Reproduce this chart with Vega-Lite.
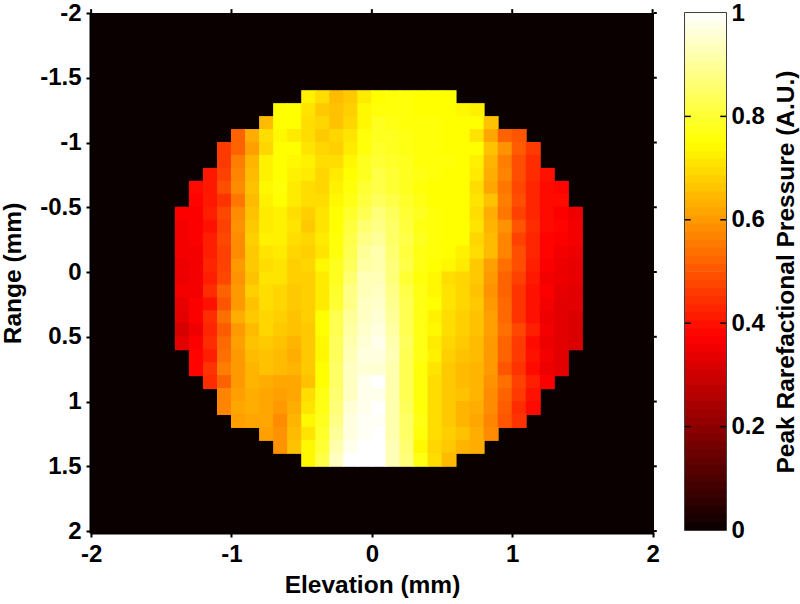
{"$schema":"https://vega.github.io/schema/vega-lite/v6.json","autosize":"none","padding":{"left":90,"top":13,"right":710,"bottom":591},"background":"white","bounds":"flush","spacing":31,"config":{"font":"Liberation Sans"},"datasets":{"cells":[
{"x":-0.45,"y":-1.35,"v":0.73},{"x":-0.35,"y":-1.35,"v":0.70},{"x":-0.25,"y":-1.35,"v":0.65},{"x":-0.15,"y":-1.35,"v":0.67},{"x":-0.05,"y":-1.35,"v":0.72},{"x":0.05,"y":-1.35,"v":0.75},{"x":0.15,"y":-1.35,"v":0.76},{"x":0.25,"y":-1.35,"v":0.76},{"x":0.35,"y":-1.35,"v":0.75},{"x":0.45,"y":-1.35,"v":0.75},{"x":0.55,"y":-1.35,"v":0.75},
{"x":-0.65,"y":-1.25,"v":0.75},{"x":-0.55,"y":-1.25,"v":0.75},{"x":-0.45,"y":-1.25,"v":0.71},{"x":-0.35,"y":-1.25,"v":0.67},{"x":-0.25,"y":-1.25,"v":0.66},{"x":-0.15,"y":-1.25,"v":0.68},{"x":-0.05,"y":-1.25,"v":0.74},{"x":0.05,"y":-1.25,"v":0.76},{"x":0.15,"y":-1.25,"v":0.76},{"x":0.25,"y":-1.25,"v":0.76},{"x":0.35,"y":-1.25,"v":0.75},{"x":0.45,"y":-1.25,"v":0.75},{"x":0.55,"y":-1.25,"v":0.75},{"x":0.65,"y":-1.25,"v":0.74},{"x":0.75,"y":-1.25,"v":0.73},
{"x":-0.75,"y":-1.15,"v":0.65},{"x":-0.65,"y":-1.15,"v":0.75},{"x":-0.55,"y":-1.15,"v":0.75},{"x":-0.45,"y":-1.15,"v":0.70},{"x":-0.35,"y":-1.15,"v":0.69},{"x":-0.25,"y":-1.15,"v":0.66},{"x":-0.15,"y":-1.15,"v":0.69},{"x":-0.05,"y":-1.15,"v":0.74},{"x":0.05,"y":-1.15,"v":0.78},{"x":0.15,"y":-1.15,"v":0.77},{"x":0.25,"y":-1.15,"v":0.76},{"x":0.35,"y":-1.15,"v":0.76},{"x":0.45,"y":-1.15,"v":0.76},{"x":0.55,"y":-1.15,"v":0.75},{"x":0.65,"y":-1.15,"v":0.75},{"x":0.75,"y":-1.15,"v":0.75},{"x":0.85,"y":-1.15,"v":0.66},
{"x":-0.95,"y":-1.05,"v":0.52},{"x":-0.85,"y":-1.05,"v":0.63},{"x":-0.75,"y":-1.05,"v":0.70},{"x":-0.65,"y":-1.05,"v":0.74},{"x":-0.55,"y":-1.05,"v":0.72},{"x":-0.45,"y":-1.05,"v":0.70},{"x":-0.35,"y":-1.05,"v":0.67},{"x":-0.25,"y":-1.05,"v":0.69},{"x":-0.15,"y":-1.05,"v":0.71},{"x":-0.05,"y":-1.05,"v":0.76},{"x":0.05,"y":-1.05,"v":0.78},{"x":0.15,"y":-1.05,"v":0.78},{"x":0.25,"y":-1.05,"v":0.77},{"x":0.35,"y":-1.05,"v":0.76},{"x":0.45,"y":-1.05,"v":0.76},{"x":0.55,"y":-1.05,"v":0.75},{"x":0.65,"y":-1.05,"v":0.75},{"x":0.75,"y":-1.05,"v":0.71},{"x":0.85,"y":-1.05,"v":0.62},{"x":0.95,"y":-1.05,"v":0.52},{"x":1.05,"y":-1.05,"v":0.50},
{"x":-1.05,"y":-0.95,"v":0.46},{"x":-0.95,"y":-0.95,"v":0.52},{"x":-0.85,"y":-0.95,"v":0.61},{"x":-0.75,"y":-0.95,"v":0.69},{"x":-0.65,"y":-0.95,"v":0.75},{"x":-0.55,"y":-0.95,"v":0.75},{"x":-0.45,"y":-0.95,"v":0.71},{"x":-0.35,"y":-0.95,"v":0.69},{"x":-0.25,"y":-0.95,"v":0.68},{"x":-0.15,"y":-0.95,"v":0.72},{"x":-0.05,"y":-0.95,"v":0.76},{"x":0.05,"y":-0.95,"v":0.79},{"x":0.15,"y":-0.95,"v":0.78},{"x":0.25,"y":-0.95,"v":0.77},{"x":0.35,"y":-0.95,"v":0.76},{"x":0.45,"y":-0.95,"v":0.76},{"x":0.55,"y":-0.95,"v":0.75},{"x":0.65,"y":-0.95,"v":0.75},{"x":0.75,"y":-0.95,"v":0.75},{"x":0.85,"y":-0.95,"v":0.66},{"x":0.95,"y":-0.95,"v":0.59},{"x":1.05,"y":-0.95,"v":0.51},{"x":1.15,"y":-0.95,"v":0.46},
{"x":-1.05,"y":-0.85,"v":0.46},{"x":-0.95,"y":-0.85,"v":0.56},{"x":-0.85,"y":-0.85,"v":0.64},{"x":-0.75,"y":-0.85,"v":0.73},{"x":-0.65,"y":-0.85,"v":0.75},{"x":-0.55,"y":-0.85,"v":0.74},{"x":-0.45,"y":-0.85,"v":0.73},{"x":-0.35,"y":-0.85,"v":0.70},{"x":-0.25,"y":-0.85,"v":0.70},{"x":-0.15,"y":-0.85,"v":0.74},{"x":-0.05,"y":-0.85,"v":0.78},{"x":0.05,"y":-0.85,"v":0.80},{"x":0.15,"y":-0.85,"v":0.79},{"x":0.25,"y":-0.85,"v":0.78},{"x":0.35,"y":-0.85,"v":0.76},{"x":0.45,"y":-0.85,"v":0.76},{"x":0.55,"y":-0.85,"v":0.76},{"x":0.65,"y":-0.85,"v":0.75},{"x":0.75,"y":-0.85,"v":0.73},{"x":0.85,"y":-0.85,"v":0.64},{"x":0.95,"y":-0.85,"v":0.56},{"x":1.05,"y":-0.85,"v":0.49},{"x":1.15,"y":-0.85,"v":0.44},
{"x":-1.15,"y":-0.75,"v":0.41},{"x":-1.05,"y":-0.75,"v":0.47},{"x":-0.95,"y":-0.75,"v":0.57},{"x":-0.85,"y":-0.75,"v":0.65},{"x":-0.75,"y":-0.75,"v":0.73},{"x":-0.65,"y":-0.75,"v":0.75},{"x":-0.55,"y":-0.75,"v":0.73},{"x":-0.45,"y":-0.75,"v":0.72},{"x":-0.35,"y":-0.75,"v":0.69},{"x":-0.25,"y":-0.75,"v":0.72},{"x":-0.15,"y":-0.75,"v":0.75},{"x":-0.05,"y":-0.75,"v":0.78},{"x":0.05,"y":-0.75,"v":0.82},{"x":0.15,"y":-0.75,"v":0.80},{"x":0.25,"y":-0.75,"v":0.78},{"x":0.35,"y":-0.75,"v":0.77},{"x":0.45,"y":-0.75,"v":0.76},{"x":0.55,"y":-0.75,"v":0.75},{"x":0.65,"y":-0.75,"v":0.75},{"x":0.75,"y":-0.75,"v":0.72},{"x":0.85,"y":-0.75,"v":0.63},{"x":0.95,"y":-0.75,"v":0.57},{"x":1.05,"y":-0.75,"v":0.49},{"x":1.15,"y":-0.75,"v":0.44},{"x":1.25,"y":-0.75,"v":0.40},
{"x":-1.25,"y":-0.65,"v":0.39},{"x":-1.15,"y":-0.65,"v":0.41},{"x":-1.05,"y":-0.65,"v":0.49},{"x":-0.95,"y":-0.65,"v":0.58},{"x":-0.85,"y":-0.65,"v":0.66},{"x":-0.75,"y":-0.65,"v":0.74},{"x":-0.65,"y":-0.65,"v":0.76},{"x":-0.55,"y":-0.65,"v":0.72},{"x":-0.45,"y":-0.65,"v":0.70},{"x":-0.35,"y":-0.65,"v":0.69},{"x":-0.25,"y":-0.65,"v":0.73},{"x":-0.15,"y":-0.65,"v":0.76},{"x":-0.05,"y":-0.65,"v":0.80},{"x":0.05,"y":-0.65,"v":0.82},{"x":0.15,"y":-0.65,"v":0.80},{"x":0.25,"y":-0.65,"v":0.78},{"x":0.35,"y":-0.65,"v":0.76},{"x":0.45,"y":-0.65,"v":0.75},{"x":0.55,"y":-0.65,"v":0.75},{"x":0.65,"y":-0.65,"v":0.75},{"x":0.75,"y":-0.65,"v":0.70},{"x":0.85,"y":-0.65,"v":0.62},{"x":0.95,"y":-0.65,"v":0.55},{"x":1.05,"y":-0.65,"v":0.48},{"x":1.15,"y":-0.65,"v":0.43},{"x":1.25,"y":-0.65,"v":0.39},{"x":1.35,"y":-0.65,"v":0.38},
{"x":-1.25,"y":-0.55,"v":0.38},{"x":-1.15,"y":-0.55,"v":0.41},{"x":-1.05,"y":-0.55,"v":0.45},{"x":-0.95,"y":-0.55,"v":0.55},{"x":-0.85,"y":-0.55,"v":0.65},{"x":-0.75,"y":-0.55,"v":0.73},{"x":-0.65,"y":-0.55,"v":0.75},{"x":-0.55,"y":-0.55,"v":0.72},{"x":-0.45,"y":-0.55,"v":0.70},{"x":-0.35,"y":-0.55,"v":0.70},{"x":-0.25,"y":-0.55,"v":0.74},{"x":-0.15,"y":-0.55,"v":0.77},{"x":-0.05,"y":-0.55,"v":0.81},{"x":0.05,"y":-0.55,"v":0.84},{"x":0.15,"y":-0.55,"v":0.82},{"x":0.25,"y":-0.55,"v":0.79},{"x":0.35,"y":-0.55,"v":0.77},{"x":0.45,"y":-0.55,"v":0.75},{"x":0.55,"y":-0.55,"v":0.75},{"x":0.65,"y":-0.55,"v":0.75},{"x":0.75,"y":-0.55,"v":0.71},{"x":0.85,"y":-0.55,"v":0.66},{"x":0.95,"y":-0.55,"v":0.56},{"x":1.05,"y":-0.55,"v":0.49},{"x":1.15,"y":-0.55,"v":0.43},{"x":1.25,"y":-0.55,"v":0.39},{"x":1.35,"y":-0.55,"v":0.39},
{"x":-1.35,"y":-0.45,"v":0.37},{"x":-1.25,"y":-0.45,"v":0.37},{"x":-1.15,"y":-0.45,"v":0.42},{"x":-1.05,"y":-0.45,"v":0.48},{"x":-0.95,"y":-0.45,"v":0.58},{"x":-0.85,"y":-0.45,"v":0.66},{"x":-0.75,"y":-0.45,"v":0.72},{"x":-0.65,"y":-0.45,"v":0.73},{"x":-0.55,"y":-0.45,"v":0.70},{"x":-0.45,"y":-0.45,"v":0.68},{"x":-0.35,"y":-0.45,"v":0.71},{"x":-0.25,"y":-0.45,"v":0.75},{"x":-0.15,"y":-0.45,"v":0.79},{"x":-0.05,"y":-0.45,"v":0.83},{"x":0.05,"y":-0.45,"v":0.87},{"x":0.15,"y":-0.45,"v":0.84},{"x":0.25,"y":-0.45,"v":0.80},{"x":0.35,"y":-0.45,"v":0.78},{"x":0.45,"y":-0.45,"v":0.76},{"x":0.55,"y":-0.45,"v":0.75},{"x":0.65,"y":-0.45,"v":0.75},{"x":0.75,"y":-0.45,"v":0.70},{"x":0.85,"y":-0.45,"v":0.63},{"x":0.95,"y":-0.45,"v":0.55},{"x":1.05,"y":-0.45,"v":0.47},{"x":1.15,"y":-0.45,"v":0.43},{"x":1.25,"y":-0.45,"v":0.39},{"x":1.35,"y":-0.45,"v":0.37},{"x":1.45,"y":-0.45,"v":0.35},
{"x":-1.35,"y":-0.35,"v":0.36},{"x":-1.25,"y":-0.35,"v":0.37},{"x":-1.15,"y":-0.35,"v":0.40},{"x":-1.05,"y":-0.35,"v":0.47},{"x":-0.95,"y":-0.35,"v":0.59},{"x":-0.85,"y":-0.35,"v":0.67},{"x":-0.75,"y":-0.35,"v":0.72},{"x":-0.65,"y":-0.35,"v":0.73},{"x":-0.55,"y":-0.35,"v":0.71},{"x":-0.45,"y":-0.35,"v":0.67},{"x":-0.35,"y":-0.35,"v":0.71},{"x":-0.25,"y":-0.35,"v":0.75},{"x":-0.15,"y":-0.35,"v":0.81},{"x":-0.05,"y":-0.35,"v":0.86},{"x":0.05,"y":-0.35,"v":0.88},{"x":0.15,"y":-0.35,"v":0.85},{"x":0.25,"y":-0.35,"v":0.81},{"x":0.35,"y":-0.35,"v":0.77},{"x":0.45,"y":-0.35,"v":0.76},{"x":0.55,"y":-0.35,"v":0.75},{"x":0.65,"y":-0.35,"v":0.75},{"x":0.75,"y":-0.35,"v":0.71},{"x":0.85,"y":-0.35,"v":0.64},{"x":0.95,"y":-0.35,"v":0.59},{"x":1.05,"y":-0.35,"v":0.50},{"x":1.15,"y":-0.35,"v":0.44},{"x":1.25,"y":-0.35,"v":0.39},{"x":1.35,"y":-0.35,"v":0.38},{"x":1.45,"y":-0.35,"v":0.36},
{"x":-1.35,"y":-0.25,"v":0.36},{"x":-1.25,"y":-0.25,"v":0.37},{"x":-1.15,"y":-0.25,"v":0.42},{"x":-1.05,"y":-0.25,"v":0.48},{"x":-0.95,"y":-0.25,"v":0.58},{"x":-0.85,"y":-0.25,"v":0.68},{"x":-0.75,"y":-0.25,"v":0.73},{"x":-0.65,"y":-0.25,"v":0.73},{"x":-0.55,"y":-0.25,"v":0.70},{"x":-0.45,"y":-0.25,"v":0.69},{"x":-0.35,"y":-0.25,"v":0.72},{"x":-0.25,"y":-0.25,"v":0.76},{"x":-0.15,"y":-0.25,"v":0.82},{"x":-0.05,"y":-0.25,"v":0.88},{"x":0.05,"y":-0.25,"v":0.90},{"x":0.15,"y":-0.25,"v":0.85},{"x":0.25,"y":-0.25,"v":0.82},{"x":0.35,"y":-0.25,"v":0.78},{"x":0.45,"y":-0.25,"v":0.76},{"x":0.55,"y":-0.25,"v":0.75},{"x":0.65,"y":-0.25,"v":0.75},{"x":0.75,"y":-0.25,"v":0.69},{"x":0.85,"y":-0.25,"v":0.65},{"x":0.95,"y":-0.25,"v":0.57},{"x":1.05,"y":-0.25,"v":0.47},{"x":1.15,"y":-0.25,"v":0.43},{"x":1.25,"y":-0.25,"v":0.38},{"x":1.35,"y":-0.25,"v":0.37},{"x":1.45,"y":-0.25,"v":0.36},
{"x":-1.35,"y":-0.15,"v":0.36},{"x":-1.25,"y":-0.15,"v":0.36},{"x":-1.15,"y":-0.15,"v":0.42},{"x":-1.05,"y":-0.15,"v":0.47},{"x":-0.95,"y":-0.15,"v":0.58},{"x":-0.85,"y":-0.15,"v":0.67},{"x":-0.75,"y":-0.15,"v":0.71},{"x":-0.65,"y":-0.15,"v":0.72},{"x":-0.55,"y":-0.15,"v":0.69},{"x":-0.45,"y":-0.15,"v":0.68},{"x":-0.35,"y":-0.15,"v":0.71},{"x":-0.25,"y":-0.15,"v":0.76},{"x":-0.15,"y":-0.15,"v":0.83},{"x":-0.05,"y":-0.15,"v":0.90},{"x":0.05,"y":-0.15,"v":0.92},{"x":0.15,"y":-0.15,"v":0.86},{"x":0.25,"y":-0.15,"v":0.81},{"x":0.35,"y":-0.15,"v":0.77},{"x":0.45,"y":-0.15,"v":0.76},{"x":0.55,"y":-0.15,"v":0.75},{"x":0.65,"y":-0.15,"v":0.73},{"x":0.75,"y":-0.15,"v":0.70},{"x":0.85,"y":-0.15,"v":0.65},{"x":0.95,"y":-0.15,"v":0.57},{"x":1.05,"y":-0.15,"v":0.49},{"x":1.15,"y":-0.15,"v":0.43},{"x":1.25,"y":-0.15,"v":0.38},{"x":1.35,"y":-0.15,"v":0.36},{"x":1.45,"y":-0.15,"v":0.35},
{"x":-1.35,"y":-0.05,"v":0.35},{"x":-1.25,"y":-0.05,"v":0.36},{"x":-1.15,"y":-0.05,"v":0.43},{"x":-1.05,"y":-0.05,"v":0.47},{"x":-0.95,"y":-0.05,"v":0.60},{"x":-0.85,"y":-0.05,"v":0.67},{"x":-0.75,"y":-0.05,"v":0.70},{"x":-0.65,"y":-0.05,"v":0.71},{"x":-0.55,"y":-0.05,"v":0.68},{"x":-0.45,"y":-0.05,"v":0.69},{"x":-0.35,"y":-0.05,"v":0.74},{"x":-0.25,"y":-0.05,"v":0.78},{"x":-0.15,"y":-0.05,"v":0.84},{"x":-0.05,"y":-0.05,"v":0.91},{"x":0.05,"y":-0.05,"v":0.92},{"x":0.15,"y":-0.05,"v":0.87},{"x":0.25,"y":-0.05,"v":0.82},{"x":0.35,"y":-0.05,"v":0.77},{"x":0.45,"y":-0.05,"v":0.75},{"x":0.55,"y":-0.05,"v":0.74},{"x":0.65,"y":-0.05,"v":0.72},{"x":0.75,"y":-0.05,"v":0.67},{"x":0.85,"y":-0.05,"v":0.61},{"x":0.95,"y":-0.05,"v":0.54},{"x":1.05,"y":-0.05,"v":0.49},{"x":1.15,"y":-0.05,"v":0.42},{"x":1.25,"y":-0.05,"v":0.37},{"x":1.35,"y":-0.05,"v":0.35},{"x":1.45,"y":-0.05,"v":0.34},
{"x":-1.35,"y":0.05,"v":0.35},{"x":-1.25,"y":0.05,"v":0.36},{"x":-1.15,"y":0.05,"v":0.42},{"x":-1.05,"y":0.05,"v":0.48},{"x":-0.95,"y":0.05,"v":0.59},{"x":-0.85,"y":0.05,"v":0.66},{"x":-0.75,"y":0.05,"v":0.71},{"x":-0.65,"y":0.05,"v":0.71},{"x":-0.55,"y":0.05,"v":0.68},{"x":-0.45,"y":0.05,"v":0.68},{"x":-0.35,"y":0.05,"v":0.72},{"x":-0.25,"y":0.05,"v":0.78},{"x":-0.15,"y":0.05,"v":0.86},{"x":-0.05,"y":0.05,"v":0.93},{"x":0.05,"y":0.05,"v":0.93},{"x":0.15,"y":0.05,"v":0.87},{"x":0.25,"y":0.05,"v":0.80},{"x":0.35,"y":0.05,"v":0.76},{"x":0.45,"y":0.05,"v":0.74},{"x":0.55,"y":0.05,"v":0.70},{"x":0.65,"y":0.05,"v":0.69},{"x":0.75,"y":0.05,"v":0.67},{"x":0.85,"y":0.05,"v":0.60},{"x":0.95,"y":0.05,"v":0.52},{"x":1.05,"y":0.05,"v":0.47},{"x":1.15,"y":0.05,"v":0.41},{"x":1.25,"y":0.05,"v":0.36},{"x":1.35,"y":0.05,"v":0.35},{"x":1.45,"y":0.05,"v":0.34},
{"x":-1.35,"y":0.15,"v":0.36},{"x":-1.25,"y":0.15,"v":0.36},{"x":-1.15,"y":0.15,"v":0.44},{"x":-1.05,"y":0.15,"v":0.52},{"x":-0.95,"y":0.15,"v":0.60},{"x":-0.85,"y":0.15,"v":0.68},{"x":-0.75,"y":0.15,"v":0.70},{"x":-0.65,"y":0.15,"v":0.69},{"x":-0.55,"y":0.15,"v":0.67},{"x":-0.45,"y":0.15,"v":0.68},{"x":-0.35,"y":0.15,"v":0.72},{"x":-0.25,"y":0.15,"v":0.79},{"x":-0.15,"y":0.15,"v":0.88},{"x":-0.05,"y":0.15,"v":0.93},{"x":0.05,"y":0.15,"v":0.94},{"x":0.15,"y":0.15,"v":0.88},{"x":0.25,"y":0.15,"v":0.82},{"x":0.35,"y":0.15,"v":0.77},{"x":0.45,"y":0.15,"v":0.74},{"x":0.55,"y":0.15,"v":0.71},{"x":0.65,"y":0.15,"v":0.69},{"x":0.75,"y":0.15,"v":0.66},{"x":0.85,"y":0.15,"v":0.59},{"x":0.95,"y":0.15,"v":0.52},{"x":1.05,"y":0.15,"v":0.45},{"x":1.15,"y":0.15,"v":0.40},{"x":1.25,"y":0.15,"v":0.37},{"x":1.35,"y":0.15,"v":0.34},{"x":1.45,"y":0.15,"v":0.33},
{"x":-1.35,"y":0.25,"v":0.34},{"x":-1.25,"y":0.25,"v":0.37},{"x":-1.15,"y":0.25,"v":0.40},{"x":-1.05,"y":0.25,"v":0.50},{"x":-0.95,"y":0.25,"v":0.60},{"x":-0.85,"y":0.25,"v":0.66},{"x":-0.75,"y":0.25,"v":0.70},{"x":-0.65,"y":0.25,"v":0.69},{"x":-0.55,"y":0.25,"v":0.67},{"x":-0.45,"y":0.25,"v":0.68},{"x":-0.35,"y":0.25,"v":0.72},{"x":-0.25,"y":0.25,"v":0.80},{"x":-0.15,"y":0.25,"v":0.88},{"x":-0.05,"y":0.25,"v":0.94},{"x":0.05,"y":0.25,"v":0.95},{"x":0.15,"y":0.25,"v":0.89},{"x":0.25,"y":0.25,"v":0.83},{"x":0.35,"y":0.25,"v":0.77},{"x":0.45,"y":0.25,"v":0.75},{"x":0.55,"y":0.25,"v":0.71},{"x":0.65,"y":0.25,"v":0.69},{"x":0.75,"y":0.25,"v":0.67},{"x":0.85,"y":0.25,"v":0.60},{"x":0.95,"y":0.25,"v":0.53},{"x":1.05,"y":0.25,"v":0.45},{"x":1.15,"y":0.25,"v":0.40},{"x":1.25,"y":0.25,"v":0.36},{"x":1.35,"y":0.25,"v":0.33},{"x":1.45,"y":0.25,"v":0.33},
{"x":-1.35,"y":0.35,"v":0.33},{"x":-1.25,"y":0.35,"v":0.37},{"x":-1.15,"y":0.35,"v":0.44},{"x":-1.05,"y":0.35,"v":0.54},{"x":-0.95,"y":0.35,"v":0.63},{"x":-0.85,"y":0.35,"v":0.67},{"x":-0.75,"y":0.35,"v":0.69},{"x":-0.65,"y":0.35,"v":0.68},{"x":-0.55,"y":0.35,"v":0.66},{"x":-0.45,"y":0.35,"v":0.68},{"x":-0.35,"y":0.35,"v":0.75},{"x":-0.25,"y":0.35,"v":0.83},{"x":-0.15,"y":0.35,"v":0.90},{"x":-0.05,"y":0.35,"v":0.94},{"x":0.05,"y":0.35,"v":0.96},{"x":0.15,"y":0.35,"v":0.90},{"x":0.25,"y":0.35,"v":0.83},{"x":0.35,"y":0.35,"v":0.77},{"x":0.45,"y":0.35,"v":0.73},{"x":0.55,"y":0.35,"v":0.70},{"x":0.65,"y":0.35,"v":0.68},{"x":0.75,"y":0.35,"v":0.66},{"x":0.85,"y":0.35,"v":0.61},{"x":0.95,"y":0.35,"v":0.53},{"x":1.05,"y":0.35,"v":0.45},{"x":1.15,"y":0.35,"v":0.40},{"x":1.25,"y":0.35,"v":0.35},{"x":1.35,"y":0.35,"v":0.33},{"x":1.45,"y":0.35,"v":0.32},
{"x":-1.35,"y":0.45,"v":0.31},{"x":-1.25,"y":0.45,"v":0.35},{"x":-1.15,"y":0.45,"v":0.43},{"x":-1.05,"y":0.45,"v":0.51},{"x":-0.95,"y":0.45,"v":0.60},{"x":-0.85,"y":0.45,"v":0.65},{"x":-0.75,"y":0.45,"v":0.69},{"x":-0.65,"y":0.45,"v":0.67},{"x":-0.55,"y":0.45,"v":0.66},{"x":-0.45,"y":0.45,"v":0.67},{"x":-0.35,"y":0.45,"v":0.75},{"x":-0.25,"y":0.45,"v":0.83},{"x":-0.15,"y":0.45,"v":0.91},{"x":-0.05,"y":0.45,"v":0.95},{"x":0.05,"y":0.45,"v":0.97},{"x":0.15,"y":0.45,"v":0.91},{"x":0.25,"y":0.45,"v":0.83},{"x":0.35,"y":0.45,"v":0.77},{"x":0.45,"y":0.45,"v":0.74},{"x":0.55,"y":0.45,"v":0.70},{"x":0.65,"y":0.45,"v":0.68},{"x":0.75,"y":0.45,"v":0.66},{"x":0.85,"y":0.45,"v":0.61},{"x":0.95,"y":0.45,"v":0.54},{"x":1.05,"y":0.45,"v":0.48},{"x":1.15,"y":0.45,"v":0.42},{"x":1.25,"y":0.45,"v":0.36},{"x":1.35,"y":0.45,"v":0.33},{"x":1.45,"y":0.45,"v":0.32},
{"x":-1.35,"y":0.55,"v":0.33},{"x":-1.25,"y":0.55,"v":0.37},{"x":-1.15,"y":0.55,"v":0.44},{"x":-1.05,"y":0.55,"v":0.53},{"x":-0.95,"y":0.55,"v":0.61},{"x":-0.85,"y":0.55,"v":0.66},{"x":-0.75,"y":0.55,"v":0.67},{"x":-0.65,"y":0.55,"v":0.66},{"x":-0.55,"y":0.55,"v":0.64},{"x":-0.45,"y":0.55,"v":0.67},{"x":-0.35,"y":0.55,"v":0.74},{"x":-0.25,"y":0.55,"v":0.84},{"x":-0.15,"y":0.55,"v":0.92},{"x":-0.05,"y":0.55,"v":0.96},{"x":0.05,"y":0.55,"v":0.98},{"x":0.15,"y":0.55,"v":0.92},{"x":0.25,"y":0.55,"v":0.84},{"x":0.35,"y":0.55,"v":0.77},{"x":0.45,"y":0.55,"v":0.72},{"x":0.55,"y":0.55,"v":0.69},{"x":0.65,"y":0.55,"v":0.67},{"x":0.75,"y":0.55,"v":0.65},{"x":0.85,"y":0.55,"v":0.60},{"x":0.95,"y":0.55,"v":0.52},{"x":1.05,"y":0.55,"v":0.46},{"x":1.15,"y":0.55,"v":0.39},{"x":1.25,"y":0.55,"v":0.35},{"x":1.35,"y":0.55,"v":0.33},{"x":1.45,"y":0.55,"v":0.32},
{"x":-1.25,"y":0.65,"v":0.38},{"x":-1.15,"y":0.65,"v":0.42},{"x":-1.05,"y":0.65,"v":0.54},{"x":-0.95,"y":0.65,"v":0.60},{"x":-0.85,"y":0.65,"v":0.65},{"x":-0.75,"y":0.65,"v":0.66},{"x":-0.65,"y":0.65,"v":0.65},{"x":-0.55,"y":0.65,"v":0.63},{"x":-0.45,"y":0.65,"v":0.67},{"x":-0.35,"y":0.65,"v":0.74},{"x":-0.25,"y":0.65,"v":0.84},{"x":-0.15,"y":0.65,"v":0.93},{"x":-0.05,"y":0.65,"v":0.97},{"x":0.05,"y":0.65,"v":0.97},{"x":0.15,"y":0.65,"v":0.93},{"x":0.25,"y":0.65,"v":0.83},{"x":0.35,"y":0.65,"v":0.77},{"x":0.45,"y":0.65,"v":0.73},{"x":0.55,"y":0.65,"v":0.68},{"x":0.65,"y":0.65,"v":0.66},{"x":0.75,"y":0.65,"v":0.65},{"x":0.85,"y":0.65,"v":0.60},{"x":0.95,"y":0.65,"v":0.52},{"x":1.05,"y":0.65,"v":0.46},{"x":1.15,"y":0.65,"v":0.40},{"x":1.25,"y":0.65,"v":0.36},{"x":1.35,"y":0.65,"v":0.33},
{"x":-1.25,"y":0.75,"v":0.38},{"x":-1.15,"y":0.75,"v":0.45},{"x":-1.05,"y":0.75,"v":0.56},{"x":-0.95,"y":0.75,"v":0.60},{"x":-0.85,"y":0.75,"v":0.64},{"x":-0.75,"y":0.75,"v":0.66},{"x":-0.65,"y":0.75,"v":0.65},{"x":-0.55,"y":0.75,"v":0.64},{"x":-0.45,"y":0.75,"v":0.67},{"x":-0.35,"y":0.75,"v":0.75},{"x":-0.25,"y":0.75,"v":0.85},{"x":-0.15,"y":0.75,"v":0.94},{"x":-0.05,"y":0.75,"v":0.96},{"x":0.05,"y":0.75,"v":0.96},{"x":0.15,"y":0.75,"v":0.92},{"x":0.25,"y":0.75,"v":0.83},{"x":0.35,"y":0.75,"v":0.76},{"x":0.45,"y":0.75,"v":0.71},{"x":0.55,"y":0.75,"v":0.67},{"x":0.65,"y":0.75,"v":0.65},{"x":0.75,"y":0.75,"v":0.64},{"x":0.85,"y":0.75,"v":0.60},{"x":0.95,"y":0.75,"v":0.50},{"x":1.05,"y":0.75,"v":0.45},{"x":1.15,"y":0.75,"v":0.39},{"x":1.25,"y":0.75,"v":0.35},{"x":1.35,"y":0.75,"v":0.33},
{"x":-1.15,"y":0.85,"v":0.44},{"x":-1.05,"y":0.85,"v":0.52},{"x":-0.95,"y":0.85,"v":0.60},{"x":-0.85,"y":0.85,"v":0.64},{"x":-0.75,"y":0.85,"v":0.63},{"x":-0.65,"y":0.85,"v":0.62},{"x":-0.55,"y":0.85,"v":0.62},{"x":-0.45,"y":0.85,"v":0.66},{"x":-0.35,"y":0.85,"v":0.75},{"x":-0.25,"y":0.85,"v":0.85},{"x":-0.15,"y":0.85,"v":0.94},{"x":-0.05,"y":0.85,"v":0.98},{"x":0.05,"y":0.85,"v":1.00},{"x":0.15,"y":0.85,"v":0.92},{"x":0.25,"y":0.85,"v":0.83},{"x":0.35,"y":0.85,"v":0.76},{"x":0.45,"y":0.85,"v":0.70},{"x":0.55,"y":0.85,"v":0.67},{"x":0.65,"y":0.85,"v":0.65},{"x":0.75,"y":0.85,"v":0.64},{"x":0.85,"y":0.85,"v":0.59},{"x":0.95,"y":0.85,"v":0.54},{"x":1.05,"y":0.85,"v":0.47},{"x":1.15,"y":0.85,"v":0.42},{"x":1.25,"y":0.85,"v":0.37},
{"x":-1.05,"y":0.95,"v":0.57},{"x":-0.95,"y":0.95,"v":0.61},{"x":-0.85,"y":0.95,"v":0.63},{"x":-0.75,"y":0.95,"v":0.62},{"x":-0.65,"y":0.95,"v":0.61},{"x":-0.55,"y":0.95,"v":0.62},{"x":-0.45,"y":0.95,"v":0.70},{"x":-0.35,"y":0.95,"v":0.77},{"x":-0.25,"y":0.95,"v":0.86},{"x":-0.15,"y":0.95,"v":0.94},{"x":-0.05,"y":0.95,"v":0.98},{"x":0.05,"y":0.95,"v":0.98},{"x":0.15,"y":0.95,"v":0.92},{"x":0.25,"y":0.95,"v":0.83},{"x":0.35,"y":0.95,"v":0.76},{"x":0.45,"y":0.95,"v":0.70},{"x":0.55,"y":0.95,"v":0.67},{"x":0.65,"y":0.95,"v":0.66},{"x":0.75,"y":0.95,"v":0.64},{"x":0.85,"y":0.95,"v":0.58},{"x":0.95,"y":0.95,"v":0.52},{"x":1.05,"y":0.95,"v":0.46},{"x":1.15,"y":0.95,"v":0.40},
{"x":-1.05,"y":1.05,"v":0.57},{"x":-0.95,"y":1.05,"v":0.62},{"x":-0.85,"y":1.05,"v":0.63},{"x":-0.75,"y":1.05,"v":0.62},{"x":-0.65,"y":1.05,"v":0.60},{"x":-0.55,"y":1.05,"v":0.63},{"x":-0.45,"y":1.05,"v":0.71},{"x":-0.35,"y":1.05,"v":0.77},{"x":-0.25,"y":1.05,"v":0.87},{"x":-0.15,"y":1.05,"v":0.96},{"x":-0.05,"y":1.05,"v":0.98},{"x":0.05,"y":1.05,"v":1.00},{"x":0.15,"y":1.05,"v":0.92},{"x":0.25,"y":1.05,"v":0.84},{"x":0.35,"y":1.05,"v":0.76},{"x":0.45,"y":1.05,"v":0.70},{"x":0.55,"y":1.05,"v":0.67},{"x":0.65,"y":1.05,"v":0.64},{"x":0.75,"y":1.05,"v":0.63},{"x":0.85,"y":1.05,"v":0.58},{"x":0.95,"y":1.05,"v":0.51},{"x":1.05,"y":1.05,"v":0.44},{"x":1.15,"y":1.05,"v":0.39},
{"x":-0.95,"y":1.15,"v":0.61},{"x":-0.85,"y":1.15,"v":0.62},{"x":-0.75,"y":1.15,"v":0.62},{"x":-0.65,"y":1.15,"v":0.58},{"x":-0.55,"y":1.15,"v":0.64},{"x":-0.45,"y":1.15,"v":0.74},{"x":-0.35,"y":1.15,"v":0.78},{"x":-0.25,"y":1.15,"v":0.88},{"x":-0.15,"y":1.15,"v":0.97},{"x":-0.05,"y":1.15,"v":0.99},{"x":0.05,"y":1.15,"v":0.99},{"x":0.15,"y":1.15,"v":0.92},{"x":0.25,"y":1.15,"v":0.85},{"x":0.35,"y":1.15,"v":0.77},{"x":0.45,"y":1.15,"v":0.70},{"x":0.55,"y":1.15,"v":0.67},{"x":0.65,"y":1.15,"v":0.64},{"x":0.75,"y":1.15,"v":0.62},{"x":0.85,"y":1.15,"v":0.57},{"x":0.95,"y":1.15,"v":0.50},{"x":1.05,"y":1.15,"v":0.45},
{"x":-0.75,"y":1.25,"v":0.61},{"x":-0.65,"y":1.25,"v":0.59},{"x":-0.55,"y":1.25,"v":0.65},{"x":-0.45,"y":1.25,"v":0.71},{"x":-0.35,"y":1.25,"v":0.79},{"x":-0.25,"y":1.25,"v":0.90},{"x":-0.15,"y":1.25,"v":0.97},{"x":-0.05,"y":1.25,"v":0.99},{"x":0.05,"y":1.25,"v":1.00},{"x":0.15,"y":1.25,"v":0.92},{"x":0.25,"y":1.25,"v":0.85},{"x":0.35,"y":1.25,"v":0.76},{"x":0.45,"y":1.25,"v":0.70},{"x":0.55,"y":1.25,"v":0.68},{"x":0.65,"y":1.25,"v":0.66},{"x":0.75,"y":1.25,"v":0.63},{"x":0.85,"y":1.25,"v":0.58},
{"x":-0.65,"y":1.35,"v":0.59},{"x":-0.55,"y":1.35,"v":0.66},{"x":-0.45,"y":1.35,"v":0.74},{"x":-0.35,"y":1.35,"v":0.80},{"x":-0.25,"y":1.35,"v":0.92},{"x":-0.15,"y":1.35,"v":0.98},{"x":-0.05,"y":1.35,"v":1.00},{"x":0.05,"y":1.35,"v":1.00},{"x":0.15,"y":1.35,"v":0.93},{"x":0.25,"y":1.35,"v":0.86},{"x":0.35,"y":1.35,"v":0.74},{"x":0.45,"y":1.35,"v":0.69},{"x":0.55,"y":1.35,"v":0.67},{"x":0.65,"y":1.35,"v":0.64},{"x":0.75,"y":1.35,"v":0.63},
{"x":-0.45,"y":1.45,"v":0.74},{"x":-0.35,"y":1.45,"v":0.82},{"x":-0.25,"y":1.45,"v":0.94},{"x":-0.15,"y":1.45,"v":1.00},{"x":-0.05,"y":1.45,"v":1.00},{"x":0.05,"y":1.45,"v":1.00},{"x":0.15,"y":1.45,"v":0.93},{"x":0.25,"y":1.45,"v":0.87},{"x":0.35,"y":1.45,"v":0.77},{"x":0.45,"y":1.45,"v":0.70},{"x":0.55,"y":1.45,"v":0.65}
],"bar":[
{"v":0.008},{"v":0.023},{"v":0.039},{"v":0.055},{"v":0.070},{"v":0.086},{"v":0.102},{"v":0.117},{"v":0.133},{"v":0.148},{"v":0.164},{"v":0.180},{"v":0.195},{"v":0.211},{"v":0.227},{"v":0.242},{"v":0.258},{"v":0.273},{"v":0.289},{"v":0.305},{"v":0.320},{"v":0.336},{"v":0.352},{"v":0.367},{"v":0.383},{"v":0.398},{"v":0.414},{"v":0.430},{"v":0.445},{"v":0.461},{"v":0.477},{"v":0.492},{"v":0.508},{"v":0.523},{"v":0.539},{"v":0.555},{"v":0.570},{"v":0.586},{"v":0.602},{"v":0.617},{"v":0.633},{"v":0.648},{"v":0.664},{"v":0.680},{"v":0.695},{"v":0.711},{"v":0.727},{"v":0.742},{"v":0.758},{"v":0.773},{"v":0.789},{"v":0.805},{"v":0.820},{"v":0.836},{"v":0.852},{"v":0.867},{"v":0.883},{"v":0.898},{"v":0.914},{"v":0.930},{"v":0.945},{"v":0.961},{"v":0.977},{"v":0.992}
],"frameticks":[
{"x":2.01,"x2":2.03,"y":-2,"y2":-2},{"x":2.01,"x2":2.03,"y":-1.5,"y2":-1.5},{"x":2.01,"x2":2.03,"y":-1,"y2":-1},{"x":2.01,"x2":2.03,"y":-0.5,"y2":-0.5},{"x":2.01,"x2":2.03,"y":0,"y2":0},{"x":2.01,"x2":2.03,"y":0.5,"y2":0.5},{"x":2.01,"x2":2.03,"y":1,"y2":1},{"x":2.01,"x2":2.03,"y":1.5,"y2":1.5},{"x":2.01,"x2":2.03,"y":2,"y2":2},
{"x":-2,"x2":-2,"y":-2,"y2":-2.03},{"x":-1,"x2":-1,"y":-2,"y2":-2.03},{"x":0,"x2":0,"y":-2,"y2":-2.03},{"x":1,"x2":1,"y":-2,"y2":-2.03},{"x":2,"x2":2,"y":-2,"y2":-2.03}
],"barticks":[
{"a":0,"b":0.14,"v":0.2},{"a":0,"b":0.14,"v":0.4},{"a":0,"b":0.14,"v":0.6},{"a":0,"b":0.14,"v":0.8},{"a":0.86,"b":1,"v":0.2},{"a":0.86,"b":1,"v":0.4},{"a":0.86,"b":1,"v":0.6},{"a":0.86,"b":1,"v":0.8}
]},
"hconcat":[
{"width":564,"height":520,"view":{"fill":"#0a0000","stroke":null},"encoding":{
"x":{"field":"x","type":"quantitative","scale":{"domain":[-2.008,2.01],"nice":false,"zero":false},"axis":{"values":[-2,-1,0,1,2],"labelExpr":"''+datum.value","title":"Elevation (mm)","grid":false,"domain":true,"domainColor":"#000","domainWidth":2,"tickColor":"#000","tickWidth":2,"tickSize":4,"labelFontSize":24,"labelFontWeight":"bold","labelColor":"#000","labelPadding":5,"labelFlush":false,"titleFontSize":24.5,"titleFontWeight":"bold","titleColor":"#000","titlePadding":7}},
"y":{"field":"y","type":"quantitative","scale":{"domain":[-2,2.015],"reverse":true,"nice":false,"zero":false},"axis":{"values":[-2,-1.5,-1,-0.5,0,0.5,1,1.5,2],"labelExpr":"''+datum.value","title":"Range (mm)","grid":false,"domain":true,"domainColor":"#000","domainWidth":2,"tickColor":"#000","tickWidth":2,"tickSize":4,"labelFontSize":24,"labelFontWeight":"bold","labelColor":"#000","labelPadding":5,"labelFlush":false,"titleFontSize":24.5,"titleFontWeight":"bold","titleColor":"#000","titlePadding":14}}},"layer":[
{"data":{"name":"cells"},"mark":{"type":"rect","width":15,"height":14},"encoding":{
"color":{"field":"v","type":"quantitative","legend":null,"scale":{"type":"linear","domain":[0,0.375,0.75,1],"range":["#0a0000","#ff0000","#ffff00","#ffffff"],"interpolate":"rgb","clamp":true}}}},
{"data":{"name":"frameticks"},"mark":{"type":"rule","color":"#000","strokeWidth":2,"clip":false},"encoding":{"x2":{"field":"x2"},"y2":{"field":"y2"}}}
]},
{"width":41,"height":517,"view":{"stroke":"#000","strokeWidth":1.5},"layer":[
{"data":{"name":"bar"},"mark":{"type":"rect","height":9,"clip":true},"encoding":{
"y":{"field":"v","type":"quantitative","scale":{"domain":[0,1],"nice":false,"zero":false},"axis":{"orient":"right","values":[0,0.2,0.4,0.6,0.8,1],"labelExpr":"''+datum.value","title":"Peak Rarefactional Pressure (A.U.)","titleAngle":270,"titleBaseline":"top","grid":false,"domain":false,"ticks":false,"labelFontSize":24,"labelFontWeight":"bold","labelColor":"#000","labelPadding":5,"labelFlush":false,"titleFontSize":24.5,"titleFontWeight":"bold","titleColor":"#000","titlePadding":10}},
"color":{"field":"v","type":"quantitative","legend":null,"scale":{"type":"linear","domain":[0,0.375,0.75,1],"range":["#0a0000","#ff0000","#ffff00","#ffffff"],"interpolate":"rgb","clamp":true}}}},
{"data":{"name":"barticks"},"mark":{"type":"rule","color":"#000","strokeWidth":1.5},"encoding":{
"x":{"field":"a","type":"quantitative","scale":{"domain":[0,1],"nice":false,"zero":false},"axis":null},"x2":{"field":"b"},"y":{"field":"v","type":"quantitative"}}}
]}
]}
